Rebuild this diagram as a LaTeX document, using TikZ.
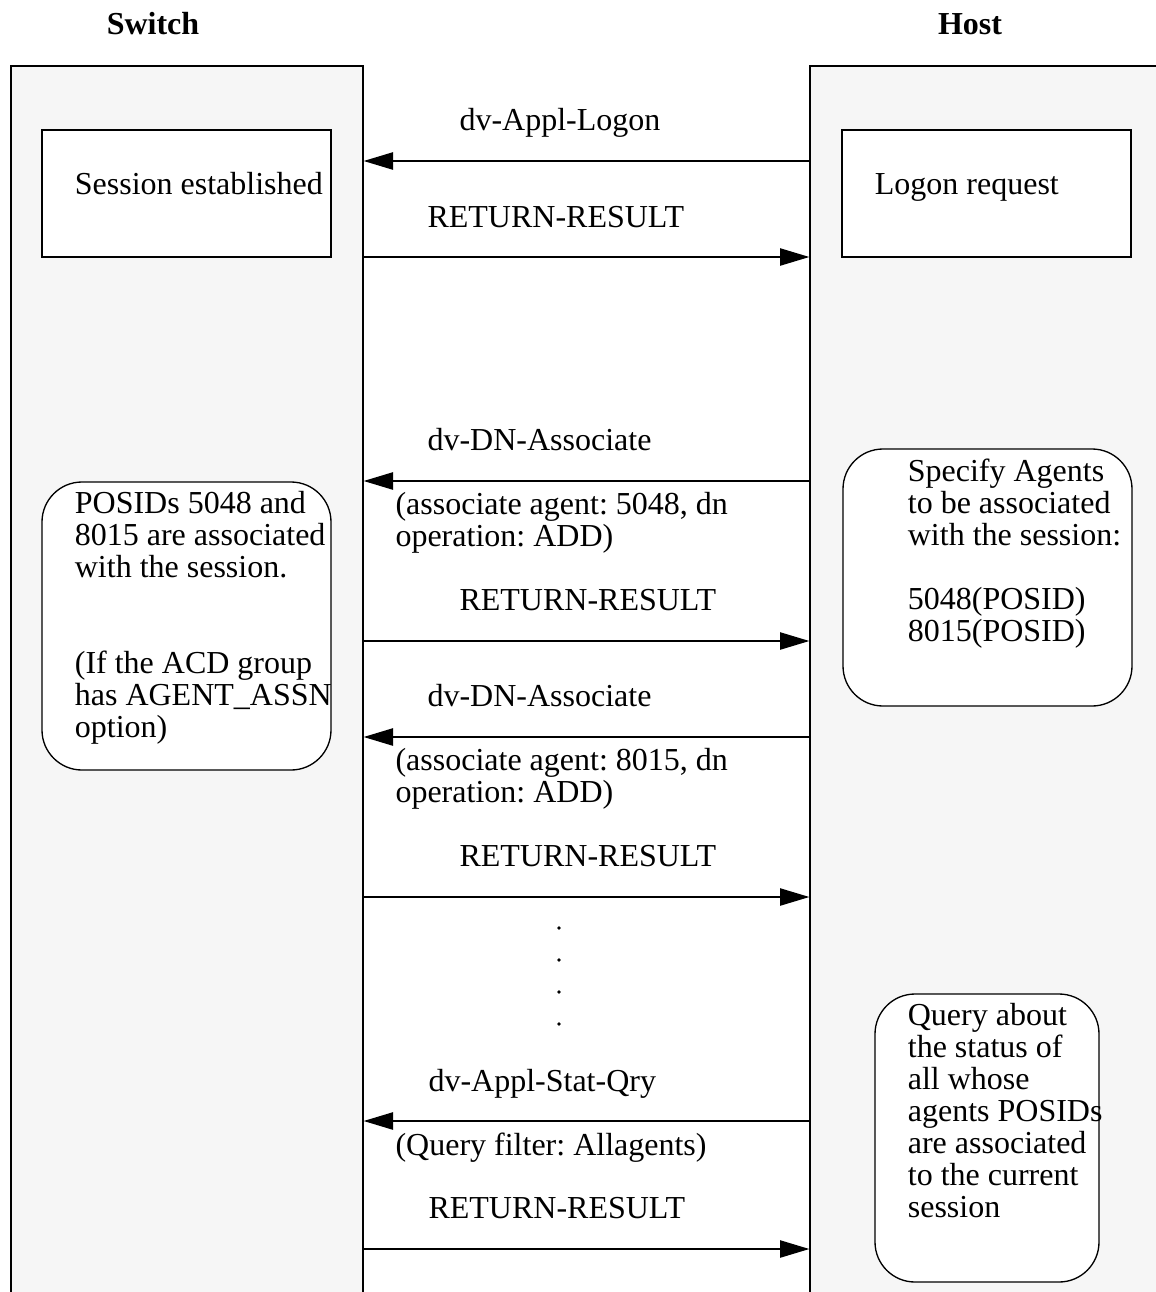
\documentclass[tikz,border=0pt]{standalone}
\usepackage{fontspec}
\setmainfont{Liberation Serif}
\usetikzlibrary{calc,fit,arrows.meta}
\definecolor{panel}{RGB}{246,246,246}
\frenchspacing
% stacked left-aligned lines, baseline on the first one
\newcommand{\lines}[1]{\begin{tabular}[t]{@{}l@{}}#1\end{tabular}}

\begin{document}
\begin{tikzpicture}[x=0.375pt,y=-0.375pt,
    lane/.style={draw, fill=panel, line width=.5pt, inner sep=0pt},
    sqbox/.style={draw, fill=white, line width=.5pt, inner sep=0pt},
    rbox/.style={sqbox, rounded corners=15pt},
    txt/.style={anchor=base west, inner sep=0pt, font=\fontsize{12}{12}\selectfont},
    head/.style={anchor=base, inner sep=0pt, font=\fontsize{12}{12}\selectfont\bfseries},
    msg/.style={-{Triangle[length=11pt,width=6.5pt]}, line width=.5pt}]
  \path[use as bounding box, clip] (0,0) rectangle (1156,1292);

  % the two parties
  \node[head] (switchlbl) at (153,34) {Switch};
  \node[head] (hostlbl) at (970,34) {Host};
  \node[lane, fit={(11,66) (363,1320)}] (switch) {};
  \node[lane, fit={(810,66) (1180,1320)}] (host) {};

  % boxes on the switch side
  \node[sqbox, fit={(42,130) (331,257)}] (sess) {};
  \node[txt] (sesstxt) at ($(sess.north west)+(33,65)$) {Session established};
  \node[rbox, fit={(42,482) (331,770)}] (assoc) {};
  \node[txt] (assoctxt) at ($(assoc.north west)+(33,32)$)
    {\lines{POSIDs 5048 and\\8015 are associated\\with the session.\\ \\ \\
      (If the ACD group\\has AGENT\_ASSN\\option)}};

  % boxes on the host side
  \node[sqbox, fit={(842,130) (1131,257)}] (logon) {};
  \node[txt] (logontxt) at ($(logon.north west)+(33,65)$) {Logon request};
  \node[rbox, fit={(843,449) (1132,706)}] (spec) {};
  \node[txt] (spectxt) at ($(spec.north west)+(65,33)$)
    {\lines{Specify Agents\\to be associated\\with the session:\\ \\
      5048(POSID)\\8015(POSID)}};
  \node[rbox, fit={(875,994) (1099,1282)}] (query) {};
  \node[txt] (querytxt) at ($(query.north west)+(33,32)$)
    {\lines{Query about\\the status of\\all whose\\agents POSIDs\\are associated\\
      to the current\\session}};

  % message rows
  \foreach \n/\y in {1/161,2/257,3/481,4/641,5/737,6/897,7/1121,8/1249}
    \coordinate (row\n) at (0,\y);
  \foreach \r in {1,3,5,7}
    \draw[msg] (host.west |- row\r) -- (switch.east |- row\r);
  \foreach \r in {2,4,6,8}
    \draw[msg] (switch.east |- row\r) -- (host.west |- row\r);

  % message names
  \node[txt] (m1) at (459,130) {dv-Appl-Logon};
  \node[txt] (m2) at (427,227) {RETURN-RESULT};
  \node[txt] (m3) at (427,450) {dv-DN-Associate};
  \node[txt] (p3) at (395,514) {\lines{(associate agent: 5048, dn\\operation: ADD)}};
  \node[txt] (m4) at (459,610) {RETURN-RESULT};
  \node[txt] (m5) at (427,706) {dv-DN-Associate};
  \node[txt] (p5) at (395,770) {\lines{(associate agent: 8015, dn\\operation: ADD)}};
  \node[txt] (m6) at (459,866) {RETURN-RESULT};
  \node[txt] (m7) at (428,1091) {dv-Appl-Stat-Qry};
  \node[txt] (p7) at (395,1155) {(Query filter: Allagents)};
  \node[txt] (m8) at (428,1218) {RETURN-RESULT};

  % skipped messages
  \foreach \y in {928,960,992,1024}
    \fill (559,\y) circle (1.8);
\end{tikzpicture}
\end{document}
